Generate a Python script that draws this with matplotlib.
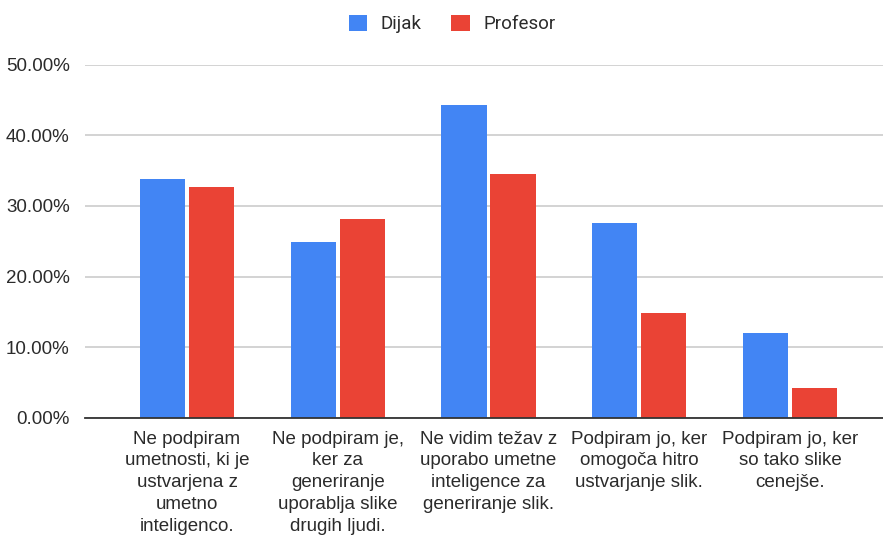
import matplotlib
matplotlib.use("Agg")

import numpy as np
import matplotlib.pyplot as plt
from matplotlib.patches import Patch
from matplotlib.ticker import PercentFormatter

# Data (percent of respondents)
CATEGORIES = [
    "Ne podpiram\numetnosti, ki je\nustvarjena z\numetno\ninteligenco.",
    "Ne podpiram je,\nker za\ngeneriranje\nuporablja slike\ndrugih ljudi.",
    "Ne vidim težav z\nuporabo umetne\ninteligence za\ngeneriranje slik.",
    "Podpiram jo, ker\nomogoča hitro\nustvarjanje slik.",
    "Podpiram jo, ker\nso tako slike\ncenejše.",
]
SERIES = ["Dijak", "Profesor"]
DIJAK = [33.8, 24.9, 44.3, 27.6, 12.0]
PROFESOR = [32.7, 28.2, 34.5, 14.9, 4.3]
Y_TICKS = [0, 10, 20, 30, 40, 50]

BLUE = "#4285F4"
RED = "#EA4335"
TEXT = "#2b2b2b"
GRID = "#d0d0d0"

plt.rcParams["font.family"] = ["Liberation Sans", "DejaVu Sans"]

W, H, DPI = 883, 536, 100
fig = plt.figure(figsize=(W / DPI, H / DPI), dpi=DPI)
fig.patch.set_facecolor("white")

# axes placed to match the plot area in pixels
left, right, bottom, top = 85, 883, 418, 64.5
ax = fig.add_axes([left / W, 1 - bottom / H, (right - left) / W, (bottom - top) / H])

x = np.arange(len(CATEGORIES))
bw = 0.30
off = 0.1625
ax.bar(x - off, DIJAK, width=bw, color=BLUE, zorder=3)
ax.bar(x + off, PROFESOR, width=bw, color=RED, zorder=3)

ax.set_xlim(-0.677, 4.617)
ax.set_ylim(0, 50)
ax.set_yticks(Y_TICKS)
ax.yaxis.set_major_formatter(PercentFormatter(decimals=2))
ax.grid(axis="y", color=GRID, linewidth=1.3, zorder=0)
ax.set_axisbelow(True)

for side in ("top", "right", "left"):
    ax.spines[side].set_visible(False)
ax.spines["bottom"].set_color("#333333")
ax.spines["bottom"].set_linewidth(1.3)
ax.spines["bottom"].set_zorder(4)

ax.set_xticks(x)
ax.set_xticklabels(CATEGORIES, fontsize=13.5, color=TEXT, linespacing=1.38)
ax.tick_params(axis="x", length=0, pad=9)
ax.tick_params(axis="y", length=0, pad=11, labelsize=13.5, labelcolor=TEXT)

handles = [Patch(facecolor=BLUE, edgecolor="none", label=SERIES[0]),
           Patch(facecolor=RED, edgecolor="none", label=SERIES[1])]
fig.legend(handles=handles, loc="center", bbox_to_anchor=(452 / W, 1 - 24 / H),
           ncol=2, frameon=False, handlelength=1.0, handleheight=1.0,
           handletextpad=0.7, columnspacing=1.6,
           prop={"family": "Roboto", "size": 13.5}, labelcolor=TEXT)

fig.savefig("out.png", dpi=DPI, facecolor="white")
